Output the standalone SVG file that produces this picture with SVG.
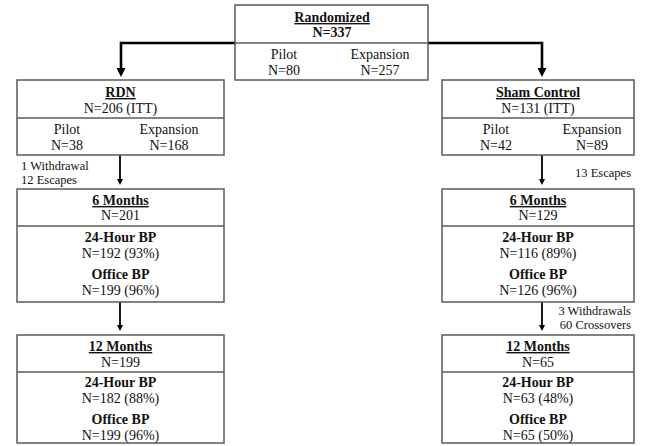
<svg xmlns="http://www.w3.org/2000/svg" width="650" height="446" viewBox="0 0 650 446">
  <defs>
    <marker id="headBig" viewBox="0 0 10 10" markerWidth="9" markerHeight="9" refX="0" refY="5" orient="auto" markerUnits="userSpaceOnUse">
      <path d="M0,0 L10,5 L0,10 z" fill="#000"/>
    </marker>
    <marker id="headSmall" viewBox="0 0 10 10" markerWidth="7" markerHeight="6" refX="0" refY="5" orient="auto" markerUnits="userSpaceOnUse">
      <path d="M0,0 L10,5 L0,10 z" fill="#000"/>
    </marker>
  </defs>
  <style>
    .box { fill: #fff; stroke: #5a5a5a; stroke-width: 1.5; }
    .div { stroke: #5a5a5a; stroke-width: 1.5; }
    text { font-family: "Liberation Serif", "Times New Roman", serif; font-size: 14px; fill: #111; text-anchor: middle; }
    .b { font-weight: bold; }
    .u { font-weight: bold; text-decoration: underline; }
    .note { font-size: 12.5px; }
    .l { text-anchor: start; }
    .r { text-anchor: end; }
    .thick { fill: none; stroke: #000; stroke-width: 2.6; }
    .thin { fill: none; stroke: #000; stroke-width: 1.8; }
  </style>
  <rect width="650" height="446" fill="#fff"/>

  <g id="connectors">
    <path class="thick" d="M235,43 H121 V68" marker-end="url(#headBig)"/>
    <path class="thick" d="M428,43 H542 V68" marker-end="url(#headBig)"/>
    <path class="thin" d="M120,155 V179" marker-end="url(#headSmall)"/>
    <path class="thin" d="M542,155 V179" marker-end="url(#headSmall)"/>
    <path class="thin" d="M120,302 V325" marker-end="url(#headSmall)"/>
    <path class="thin" d="M542,302 V325" marker-end="url(#headSmall)"/>
    <text class="note l" x="21" y="170">1 Withdrawal</text>
    <text class="note l" x="21" y="184">12 Escapes</text>
    <text class="note r" x="631" y="177">13 Escapes</text>
    <text class="note r" x="631" y="315">3 Withdrawals</text>
    <text class="note r" x="631" y="329">60 Crossovers</text>
  </g>

  <g id="randomized">
    <rect class="box" x="235" y="5" width="193" height="75"/>
    <line class="div" x1="235" y1="43" x2="428" y2="43"/>
    <text class="u" x="332" y="22">Randomized</text>
    <text class="b" x="332" y="37">N=337</text>
    <text x="284" y="59">Pilot</text>
    <text x="284" y="75">N=80</text>
    <text x="380" y="59">Expansion</text>
    <text x="380" y="75">N=257</text>
  </g>

  <g id="rdn">
    <rect class="box" x="17" y="80" width="207" height="75"/>
    <line class="div" x1="17" y1="118" x2="224" y2="118"/>
    <text class="u" x="120.5" y="97">RDN</text>
    <text x="120.5" y="113">N=206 (ITT)</text>
    <text x="67" y="134">Pilot</text>
    <text x="67" y="150">N=38</text>
    <text x="169" y="134">Expansion</text>
    <text x="169" y="150">N=168</text>
  </g>

  <g id="sham">
    <rect class="box" x="442" y="80" width="192" height="75"/>
    <line class="div" x1="442" y1="118" x2="634" y2="118"/>
    <text class="u" x="538" y="97">Sham Control</text>
    <text x="538" y="113">N=131 (ITT)</text>
    <text x="496" y="134">Pilot</text>
    <text x="496" y="150">N=42</text>
    <text x="592" y="134">Expansion</text>
    <text x="592" y="150">N=89</text>
  </g>

  <g id="rdn-6mo">
    <rect class="box" x="17" y="189" width="207" height="113"/>
    <line class="div" x1="17" y1="226" x2="224" y2="226"/>
    <text class="u" x="120.5" y="205">6 Months</text>
    <text x="120.5" y="220">N=201</text>
    <text class="b" x="120.5" y="242">24-Hour BP</text>
    <text x="120.5" y="258">N=192 (93%)</text>
    <text class="b" x="120.5" y="279">Office BP</text>
    <text x="120.5" y="295">N=199 (96%)</text>
  </g>

  <g id="sham-6mo">
    <rect class="box" x="442" y="189" width="192" height="113"/>
    <line class="div" x1="442" y1="226" x2="634" y2="226"/>
    <text class="u" x="538" y="205">6 Months</text>
    <text x="538" y="220">N=129</text>
    <text class="b" x="538" y="242">24-Hour BP</text>
    <text x="538" y="258">N=116 (89%)</text>
    <text class="b" x="538" y="279">Office BP</text>
    <text x="538" y="295">N=126 (96%)</text>
  </g>

  <g id="rdn-12mo">
    <rect class="box" x="17" y="335" width="207" height="108"/>
    <line class="div" x1="17" y1="372" x2="224" y2="372"/>
    <text class="u" x="120.5" y="351">12 Months</text>
    <text x="120.5" y="367">N=199</text>
    <text class="b" x="120.5" y="387">24-Hour BP</text>
    <text x="120.5" y="403">N=182 (88%)</text>
    <text class="b" x="120.5" y="424">Office BP</text>
    <text x="120.5" y="440">N=199 (96%)</text>
  </g>

  <g id="sham-12mo">
    <rect class="box" x="442" y="335" width="192" height="108"/>
    <line class="div" x1="442" y1="372" x2="634" y2="372"/>
    <text class="u" x="538" y="351">12 Months</text>
    <text x="538" y="367">N=65</text>
    <text class="b" x="538" y="387">24-Hour BP</text>
    <text x="538" y="403">N=63 (48%)</text>
    <text class="b" x="538" y="424">Office BP</text>
    <text x="538" y="440">N=65 (50%)</text>
  </g>
</svg>
